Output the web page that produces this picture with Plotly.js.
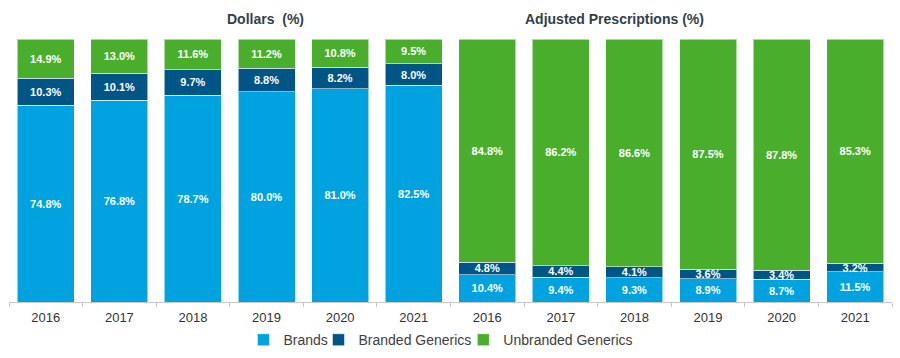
<!DOCTYPE html>
<html>
<head>
<meta charset="utf-8">
<script src="https://cdn.plot.ly/plotly-3.0.1.min.js"></script>
<style>html,body{margin:0;padding:0;background:#fff;}#chart{width:900px;height:358px;}</style>
</head>
<body>
<div id="chart"></div>
<script>
// Categories: two panels, six years each
const years = ["2016", "2017", "2018", "2019", "2020", "2021"];
const dollarCats = years.map(y => "D" + y);
const rxCats = years.map(y => "R" + y);
const categories = dollarCats.concat(rxCats);
const tickLabels = years.concat(years);

// Dollars (%)
const dollarsBrands = [74.8, 76.8, 78.7, 80.0, 81.0, 82.5];
const dollarsBranded = [10.3, 10.1, 9.7, 8.8, 8.2, 8.0];
const dollarsUnbranded = [14.9, 13.0, 11.6, 11.2, 10.8, 9.5];

// Adjusted Prescriptions (%)
const rxBrands = [10.4, 9.4, 9.3, 8.9, 8.7, 11.5];
const rxBranded = [4.8, 4.4, 4.1, 3.6, 3.4, 3.2];
const rxUnbranded = [84.8, 86.2, 86.6, 87.5, 87.8, 85.3];

const seriesNames = ["Brands", "Branded Generics", "Unbranded Generics"];
const panelTitles = ["Dollars  (%)", "Adjusted Prescriptions (%)"];

const colors = ["#00A3E0", "#005587", "#48AE2C"];
const seriesValues = [
  dollarsBrands.concat(rxBrands),
  dollarsBranded.concat(rxBranded),
  dollarsUnbranded.concat(rxUnbranded)
];
const legendIds = ["legend", "legend2", "legend3"];
const legendX = [0.2655, 0.3505, 0.5145];

const traces = seriesNames.map((name, i) => ({
  type: "bar",
  name: name,
  legend: legendIds[i],
  x: categories,
  y: seriesValues[i],
  marker: {color: colors[i], line: {color: "rgba(255,255,255,0.55)", width: 1}},
  texttemplate: "%{y:.1f}%",
  textposition: "inside",
  insidetextanchor: "middle",
  textangle: 0,
  textfont: {family: "Liberation Sans, Arial, sans-serif", size: 11, color: "#ffffff", weight: 700},
  hoverinfo: "skip"
}));

function legendSpec(x) {
  return {
    orientation: "h",
    x: x,
    xanchor: "left",
    y: -0.145,
    yanchor: "middle",
    bgcolor: "rgba(0,0,0,0)",
    borderwidth: 0,
    font: {size: 14, color: "#404040"}
  };
}

const layout = {
  width: 900,
  height: 358,
  margin: {l: 9, r: 8, t: 39, b: 56, autoexpand: false},
  paper_bgcolor: "#ffffff",
  plot_bgcolor: "#ffffff",
  barmode: "stack",
  bargap: 0.225,
  uniformtext: {mode: "show", minsize: 11},
  font: {family: "Liberation Sans, Arial, sans-serif", color: "#333333"},
  xaxis: {
    type: "category",
    tickmode: "array",
    tickvals: categories,
    ticktext: tickLabels,
    tickson: "boundaries",
    ticks: "outside",
    ticklen: 4,
    tickcolor: "#c8c8c8",
    ticklabelstandoff: 3,
    showline: true,
    linecolor: "#c8c8c8",
    linewidth: 1,
    showgrid: false,
    zeroline: false,
    automargin: false,
    tickfont: {size: 13, color: "#333333"},
    fixedrange: true
  },
  yaxis: {
    range: [0, 100],
    visible: false,
    showgrid: false,
    zeroline: false,
    fixedrange: true
  },
  legend: legendSpec(legendX[0]),
  legend2: legendSpec(legendX[1]),
  legend3: legendSpec(legendX[2]),
  showlegend: true,
  annotations: [
    {text: "<b>" + panelTitles[0] + "</b>", xref: "paper", yref: "paper", x: 0.29, y: 1.076, xanchor: "center", yanchor: "middle", showarrow: false, font: {size: 14, color: "#333f48"}},
    {text: "<b>" + panelTitles[1] + "</b>", xref: "paper", yref: "paper", x: 0.686, y: 1.076, xanchor: "center", yanchor: "middle", showarrow: false, font: {size: 14, color: "#333f48"}}
  ]
};

Plotly.newPlot("chart", traces, layout, {displayModeBar: false, staticPlot: true});
</script>
</body>
</html>
